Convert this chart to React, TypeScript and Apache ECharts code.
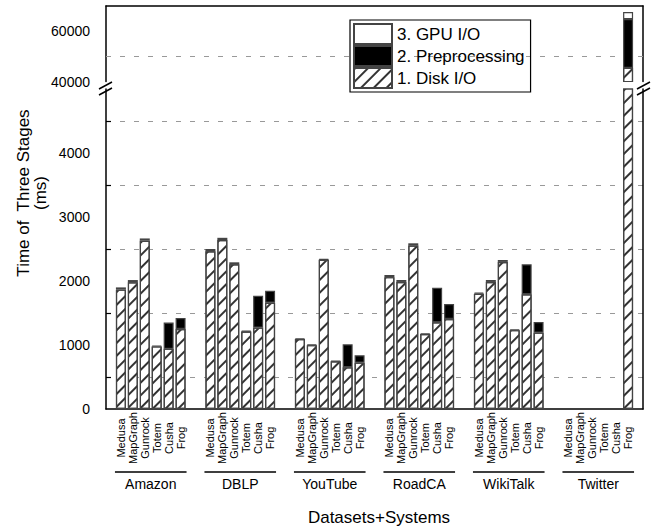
import React, { useEffect, useRef } from 'react';
import * as echarts from 'echarts';

const datasets = ['Amazon', 'DBLP', 'YouTube', 'RoadCA', 'WikiTalk', 'Twitter'];
const systems = ['Medusa', 'MapGraph', 'Gunrock', 'Totem', 'Cusha', 'Frog'];
const legendOrder = ['3. GPU I/O', '2. Preprocessing', '1. Disk I/O'];

// rows = datasets, columns = systems (ms)
const diskIO: (number | null)[][] = [
  [1865, 1980, 2630, 978, 940, 1250],
  [2465, 2640, 2260, 1210, 1271, 1661],
  [1092, 998, 2332, 745, 651, 724],
  [2060, 1985, 2555, 1170, 1354, 1406],
  [1800, 1985, 2298, 1232, 1792, 1193],
  [null, null, null, null, null, 45400],
];
const preprocessing: (number | null)[][] = [
  [null, null, null, null, 410, 172],
  [null, null, null, null, 500, 188],
  [null, null, null, null, 359, 115],
  [null, null, null, null, 542, 235],
  [null, null, null, null, 468, 166],
  [null, null, null, null, null, 19400],
];
const gpuIO: (number | null)[][] = [
  [35, 35, 35, 12, null, null],
  [35, 35, 32, 14, null, null],
  [12, 12, 12, 10, null, null],
  [34, 31, 34, 12, null, null],
  [18, 31, 30, 13, null, null],
  [null, null, null, null, null, 2800],
];
const lowerTickLabels = [0, 1000, 2000, 3000, 4000];
const upperTickLabels = [40000, 60000];
const upperGridValues = [50000];

// half-bar slots on the category axis: bars every 2 slots, groups every 15 slots
const SLOT_COUNT = 90;
const GROUP_SLOTS = 15;
const FIRST_SLOT = 2;
const slot = (g: number, s: number) => g * GROUP_SLOTS + 2 * s + FIRST_SLOT;

const systemSlots: string[] = Array(SLOT_COUNT).fill('');
const groupSlots: string[] = Array(SLOT_COUNT).fill('');
datasets.forEach((d, g) => {
  systems.forEach((s, i) => (systemSlots[slot(g, i)] = s));
  groupSlots[slot(g, 2) + 1] = d;
});

const mkData = (arr: (number | null)[][]) => {
  const out: (number | string)[] = Array(SLOT_COUNT).fill('-');
  datasets.forEach((_, g) =>
    systems.forEach((__, s) => {
      const v = arr[g][s];
      if (v != null) out[slot(g, s)] = v;
    })
  );
  return out;
};
const underlineData = (g: number) => {
  const out: (number | string)[] = Array(SLOT_COUNT).fill('-');
  for (let i = slot(g, 0) - 1; i <= slot(g, systems.length - 1) + 1; i++) out[i] = 0;
  return out;
};

const FONT = 'Liberation Sans, Arial, Helvetica, sans-serif';
const hatch = {
  symbol: 'rect',
  symbolSize: 1,
  dashArrayX: [1, 0],
  dashArrayY: [1.2, 7],
  rotation: -Math.PI / 4,
  color: '#333',
};
const border = { borderColor: '#444', borderWidth: 1.2 };
const gridDash = { color: '#999', width: 1, type: [5, 9] as number[] };

function stageSeries(gi: number) {
  const common = {
    type: 'bar',
    barWidth: 10,
    clip: true,
    silent: true,
    stack: 'stages' + gi,
    xAxisIndex: gi,
    yAxisIndex: gi === 0 ? 0 : 2,
  };
  return [
    {
      ...common,
      name: '1. Disk I/O',
      data: mkData(diskIO),
      itemStyle: { color: '#fff', ...border, decal: hatch },
      ...(gi === 0
        ? {
            markLine: {
              silent: true,
              symbol: 'none',
              label: { show: false },
              lineStyle: gridDash,
              z: 1,
              data: upperGridValues.map((v) => ({ yAxis: v })),
            },
          }
        : {}),
    },
    { ...common, name: '2. Preprocessing', data: mkData(preprocessing), itemStyle: { color: '#000', ...border } },
    { ...common, name: '3. GPU I/O', data: mkData(gpuIO), itemStyle: { color: '#fff', ...border } },
  ];
}

const frameLine = { show: true, onZero: false, lineStyle: { color: '#000', width: 1.5 } };
const catAxisBase = { type: 'category', boundaryGap: true, axisTick: { show: false }, splitLine: { show: false } };

const option: any = {
  animation: false,
  backgroundColor: '#fff',
  textStyle: { fontFamily: FONT, color: '#000' },
  grid: [
    { left: 106, width: 537, top: 6, height: 75.5, outerBoundsMode: 'none' },
    { left: 106, width: 537, top: 89, height: 320, outerBoundsMode: 'none' },
    { left: 106, width: 537, top: 470, height: 4, outerBoundsMode: 'none' },
  ],
  legend: {
    data: legendOrder,
    orient: 'vertical',
    left: 350,
    top: 20,
    icon: 'rect',
    itemWidth: 38,
    itemHeight: 20,
    itemGap: 0,
    padding: [3, 6, 3, 3],
    borderColor: '#000',
    borderWidth: 1.2,
    selectedMode: false,
    textStyle: { fontSize: 17, fontFamily: FONT, color: '#000' },
  },
  xAxis: [
    {
      ...catAxisBase, gridIndex: 0, position: 'top', data: systemSlots,
      axisLine: frameLine, axisLabel: { show: false },
    },
    {
      ...catAxisBase, gridIndex: 1, position: 'bottom', data: systemSlots,
      axisLine: frameLine,
      axisLabel: {
        show: true, interval: 0, rotate: 90, align: 'center', verticalAlign: 'middle', margin: 29,
        fontSize: 11, color: '#000', fontFamily: FONT, hideOverlap: false,
      },
    },
    {
      ...catAxisBase, gridIndex: 2, position: 'bottom', data: groupSlots,
      axisLine: { show: false },
      axisLabel: { show: true, interval: 0, margin: 3, fontSize: 14, color: '#000', fontFamily: FONT, hideOverlap: false },
    },
  ],
  yAxis: [
    {
      gridIndex: 0, type: 'value', position: 'left', min: 40000, max: 70000, interval: 10000,
      axisLine: frameLine, axisTick: { show: false }, splitLine: { show: false },
      axisLabel: {
        margin: 16, fontSize: 14, color: '#000', fontFamily: FONT, hideOverlap: false,
        formatter: (v: number) => (upperTickLabels.includes(v) ? String(v) : ''),
      },
    },
    {
      gridIndex: 0, type: 'value', position: 'right', min: 40000, max: 70000,
      axisLine: frameLine, axisTick: { show: false }, axisLabel: { show: false }, splitLine: { show: false },
    },
    {
      gridIndex: 1, type: 'value', position: 'left', min: 0, max: 5000, interval: 1000,
      axisLine: frameLine, axisTick: { show: false, inside: true }, splitLine: { show: false },
      minorTick: { show: true, splitNumber: 2, length: 5, lineStyle: { color: '#000', width: 1.2 } },
      minorSplitLine: { show: true, lineStyle: gridDash },
      axisLabel: {
        margin: 16, fontSize: 14, color: '#000', fontFamily: FONT, hideOverlap: false,
        formatter: (v: number) => (lowerTickLabels.includes(v) ? String(v) : ''),
      },
    },
    {
      gridIndex: 1, type: 'value', position: 'right', min: 0, max: 5000,
      axisLine: frameLine, axisTick: { show: false }, axisLabel: { show: false }, splitLine: { show: false },
    },
    { gridIndex: 2, type: 'value', min: -1, max: 1, show: false },
  ],
  series: [
    ...stageSeries(0),
    ...stageSeries(1),
    ...datasets.map((d, g) => ({
      type: 'line',
      name: 'underline-' + d,
      xAxisIndex: 2,
      yAxisIndex: 4,
      silent: true,
      symbol: 'none',
      connectNulls: false,
      lineStyle: { color: '#000', width: 1.5 },
      data: underlineData(g),
    })),
  ],
  graphic: [
    {
      type: 'text', x: 32, y: 193, rotation: Math.PI / 2,
      style: {
        text: 'Time of  Three Stages\n(ms)', fontSize: 17, fontFamily: FONT, fill: '#000',
        align: 'center', verticalAlign: 'middle', lineHeight: 17,
      },
    },
    {
      type: 'text', x: 379, y: 517,
      style: { text: 'Datasets+Systems', fontSize: 17, fontFamily: FONT, fill: '#000', align: 'center', verticalAlign: 'middle' },
    },
    // axis-break marks
    { type: 'line', shape: { x1: 99, y1: 89, x2: 112, y2: 82 }, style: { stroke: '#000', lineWidth: 1.5 } },
    { type: 'line', shape: { x1: 99, y1: 95, x2: 112, y2: 88 }, style: { stroke: '#000', lineWidth: 1.5 } },
    { type: 'line', shape: { x1: 637, y1: 89, x2: 650, y2: 82 }, style: { stroke: '#000', lineWidth: 1.5 } },
    { type: 'line', shape: { x1: 637, y1: 95, x2: 650, y2: 88 }, style: { stroke: '#000', lineWidth: 1.5 } },
  ],
};

export default function App() {
  const ref = useRef<HTMLDivElement>(null);
  useEffect(() => {
    const chart = echarts.init(ref.current!, null, { renderer: 'svg' });
    chart.setOption(option);
    return () => chart.dispose();
  }, []);
  return (
    <div
      ref={ref}
      style={{ position: 'fixed', left: 0, top: 0, width: 653, height: 528, background: '#fff' }}
    />
  );
}
